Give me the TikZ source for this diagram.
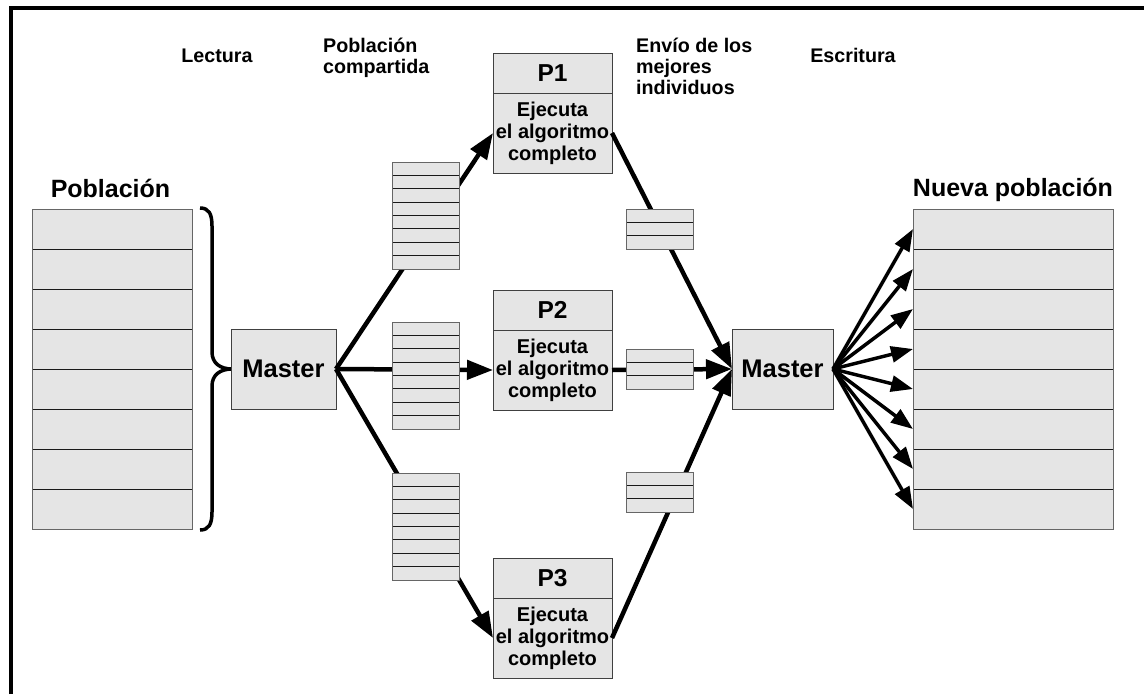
\documentclass[tikz,border=0pt]{standalone}
\usepackage{fontspec}
\setmainfont{Liberation Sans}
\usetikzlibrary{arrows.meta,calc}

\begin{document}
\begin{tikzpicture}[x=1pt,y=-1pt,
  box/.style={draw=black!75, fill=black!10, line width=0.9pt, inner sep=0pt, outer sep=0pt},
  cell/.style={draw=black!90, fill=black!10, line width=0.8pt, inner sep=0pt, outer sep=0pt},
  rim/.style={draw=black!60, line width=0.9pt},
  lbl/.style={font=\fontsize{19.7}{21}\selectfont\bfseries, inner sep=0pt},
  ttl/.style={font=\fontsize{25}{30}\selectfont\bfseries, inner sep=0pt},
  big/.style={font=\fontsize{25.5}{28}\selectfont\bfseries},
  body/.style={font=\fontsize{20}{22}\selectfont\bfseries, align=center},
  flow/.style={line width=4.5pt, -{Triangle[length=26pt,width=19pt]}},
  fan/.style={line width=3.5pt, -{Triangle[length=22pt,width=16pt]}},
]
\useasboundingbox (0,0) rectangle (1144,694);

% frame (top and left edges)
\draw[line width=4pt] (11,694) -- (11,8) -- (1144,8);

% column captions
\node[lbl, anchor=base] (lectura) at (217,62) {Lectura};
\node[lbl, anchor=base west, align=left] (compartida) at (323,73) {Población\\compartida};
\node[lbl, anchor=base west, align=left] (envio) at (636,94) {Envío de los\\mejores\\individuos};
\node[lbl, anchor=base] (escritura) at (853,62) {Escritura};

% titles
\node[ttl, anchor=base] (tpob) at (110.5,197) {Población};
\node[ttl, anchor=base] (tnueva) at (1013,196) {Nueva población};

% initial population
\foreach \i in {1,...,8}
  \node[cell, minimum width=160pt, minimum height=40pt] (pa\i) at (112,{189+40*\i}) {};
\draw[rim] (pa1.north west) rectangle (pa8.south east);

% new population
\foreach \i in {1,...,8}
  \node[cell, minimum width=200pt, minimum height=40pt] (na\i) at (1013,{189+40*\i}) {};
\draw[rim] (na1.north west) rectangle (na8.south east);

% brace gathering the population
\draw[line width=3.5pt, line join=round]
  (200,208) .. controls (209,208) and (212,214) .. (212,226) -- (212,352)
  .. controls (212,363) and (220,369) .. (232,369)
  .. controls (220,369) and (212,375) .. (212,386) -- (212,512)
  .. controls (212,524) and (209,530) .. (200,530);

% masters
\node[box, big, minimum width=105pt, minimum height=80pt] (m1) at (283.5,369) {Master};
\node[box, big, minimum width=101pt, minimum height=80pt] (m2) at (782.5,369) {Master};

% processors: header and body
\foreach \k/\y in {1/53, 2/290, 3/558} {
  \node[box, font=\fontsize{24.5}{28}\selectfont\bfseries, minimum width=119pt, minimum height=40pt] (p\k h) at (552.5,{\y+20}) {P\k};
  \node[box, body, minimum width=119pt, minimum height=80pt] (p\k) at (552.5,{\y+80})
    {Ejecuta\\el algoritmo\\completo};
}

% distribution and collection
\foreach \k in {1,2,3} {
  \draw[flow] (m1.east) -- (p\k.west);
  \draw[flow] (p\k.east) -- (m2.west);
}

% writing the new population
\foreach \i in {1,...,8}
  \draw[fan] (m2.east) -- (na\i.west);

% shared population blocks
\foreach \s/\t in {1/162, 2/322, 3/473} {
  \foreach \i in {1,...,8}
    \node[cell, minimum width=67pt, minimum height=13.375pt] (s\s r\i) at (425.5,{\t+13.375*(\i-0.5)}) {};
  \draw[rim] (s\s r1.north west) rectangle (s\s r8.south east);
}

% best individuals sent back
\foreach \s/\t in {1/209, 2/349, 3/472} {
  \foreach \i in {1,2,3}
    \node[cell, minimum width=67pt, minimum height=13.33pt] (b\s r\i) at (659.5,{\t+13.33*(\i-0.5)}) {};
  \draw[rim] (b\s r1.north west) rectangle (b\s r3.south east);
}
\end{tikzpicture}
\end{document}
